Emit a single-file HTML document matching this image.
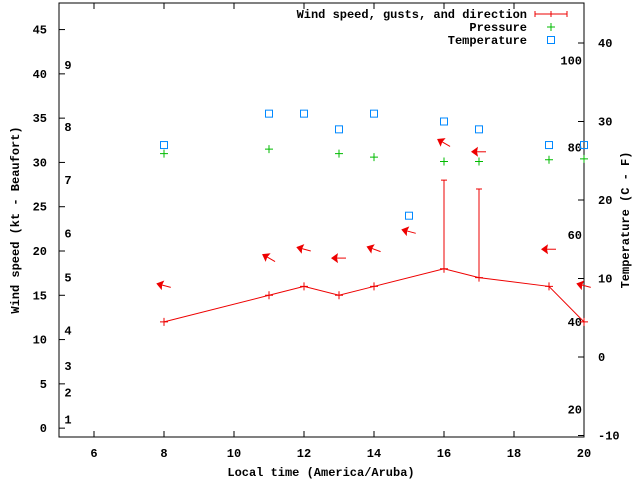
<!DOCTYPE html>
<html><head><meta charset="utf-8"><style>
body{margin:0;background:#fff}
svg{display:block;font-family:"Liberation Mono","DejaVu Sans Mono",monospace;font-size:12px;font-weight:bold}
</style></head><body>
<svg id="chart" width="640" height="480" xmlns="http://www.w3.org/2000/svg"></svg>
<script>
const hours=[8,11,12,13,14,16,17,19,20];
const windSpeed=[12,15,16,15,16,18,17,16,12];
const gustHours=[16,17];
const gustLow=[18,17];
const gustHigh=[28,27];
const pressHours=[8,11,13,14,16,17,19,20];
const pressure=[31,31.5,31,30.6,30.1,30.1,30.3,30.4];
const tempHours=[8,11,12,13,14,15,16,17,19,20];
const temperature=[27,31,31,29,31,18,30,29,27,27];
const dirHours=[8,11,12,13,14,15,16,17,19,20];
const dirY=[16.1,19.2,20.2,19.2,20.2,22.2,32.2,31.2,20.2,16.1];
const dirAngle=[165,150,165,180,160,165,150,180,180,165];
const xTicks=[6,8,10,12,14,16,18,20];
const yTicks=[0,5,10,15,20,25,30,35,40,45];
const y2Ticks=[-10,0,10,20,30,40];
const beaufort=[[1,1],[2,4],[3,7],[4,11],[5,17],[6,22],[7,28],[8,34],[9,41]];
const fahr=[[20,-6.67],[40,4.44],[60,15.56],[80,26.67],[100,37.78]];

const L=59,R=584,T=3,B=437;
const X=v=>L+(v-5)*(R-L)/15;
const Y=v=>B-(v+1)*(B-T)/49;
const Y2=v=>357-v*7.85;
const svg=document.getElementById('chart');
const NS='http://www.w3.org/2000/svg';
function el(tag,a,parent){const e=document.createElementNS(NS,tag);for(const k in a)e.setAttribute(k,a[k]);(parent||svg).appendChild(e);return e;}
function txt(x,y,s,anchor,extra){const t=el('text',Object.assign({x:x,y:y,'text-anchor':anchor||'middle'},extra||{}));t.textContent=s;return t;}

const frame=el('rect',{x:L,y:T,width:R-L,height:B-T,fill:'none',stroke:'#000'});



xTicks.forEach(v=>{el('line',{x1:X(v),x2:X(v),y1:B,y2:B-6,stroke:'#000'});el('line',{x1:X(v),x2:X(v),y1:T,y2:T+6,stroke:'#000'});
 const t=txt(X(v),457,String(v));});
yTicks.forEach(v=>{el('line',{x1:L,x2:L+6,y1:Y(v),y2:Y(v),stroke:'#000'});
 const t=txt(47,Y(v)+4,String(v),'end');});
y2Ticks.forEach(v=>{el('line',{x1:R,x2:R-6,y1:Y2(v),y2:Y2(v),stroke:'#000'});
 const t=txt(598,Y2(v)+4,String(v),'start');});
beaufort.forEach(b=>{const t=txt(68,Y(b[1])+4,String(b[0]));});
fahr.forEach(f=>{const t=txt(582,Y2(f[1])+4,String(f[0]),'end');});

let t=txt(321,476,'Local time (America/Aruba)');
t=txt(0,0,'Wind speed (kt - Beaufort)','middle',{transform:'translate(19,220) rotate(-90)'});
t=txt(0,0,'Temperature (C - F)','middle',{transform:'translate(629,220) rotate(-90)'});

const pl=el('polyline',{points:hours.map((h,i)=>X(h)+','+Y(windSpeed[i])).join(' '),fill:'none',stroke:'#e00'});

hours.forEach((h,i)=>{const x=X(h),y=Y(windSpeed[i]);el('path',{d:`M${x-4},${y}h8M${x},${y-4}v8`,stroke:'#e00'});});
gustHours.forEach((h,i)=>{const x=X(h);const g=el('path',{d:`M${x},${Y(gustLow[i])}V${Y(gustHigh[i])}M${x-3},${Y(gustHigh[i])}h6`,stroke:'#e00',fill:'none'});
 });
pressHours.forEach((h,i)=>{const x=X(h),y=Y(pressure[i]);const p=el('path',{d:`M${x-4},${y}h8M${x},${y-4}v8`,stroke:'#0b0'});
 });
tempHours.forEach((h,i)=>{const x=X(h),y=Y2(temperature[i]);const r=el('rect',{x:x-3.5,y:y-3.5,width:7,height:7,fill:'none',stroke:'#08f'});
 });
dirHours.forEach((h,i)=>{const x=X(h),y=Y(dirY[i]);const g=el('g',{transform:`translate(${x},${y}) rotate(${180-dirAngle[i]})`});
 
 el('line',{x1:-7,y1:0,x2:7,y2:0,stroke:'#e00'},g);el('path',{d:'M-8,0L-1,-5L-2,0L-1,5Z',fill:'#e00'},g);});

t=txt(527,18,'Wind speed, gusts, and direction','end');
const lw=el('path',{d:'M535,14h32M535,11v6M567,11v6M551,11v6',stroke:'#e00'});
t=txt(527,31,'Pressure','end');
const lp=el('path',{d:'M547,27h8M551,23v8',stroke:'#0b0'});
t=txt(527,44,'Temperature','end');
const lt=el('rect',{x:547.5,y:36.5,width:7,height:7,fill:'none',stroke:'#08f'});
</script>
</body></html>
